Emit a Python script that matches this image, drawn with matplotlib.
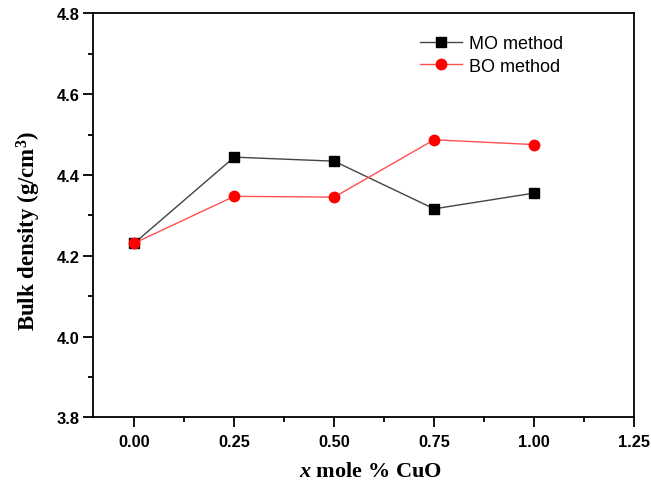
import matplotlib
matplotlib.use("Agg")
import matplotlib.pyplot as plt
from matplotlib.ticker import MultipleLocator, FormatStrFormatter

x_vals = [0.00, 0.25, 0.50, 0.75, 1.00]
mo_density = [4.231, 4.444, 4.434, 4.316, 4.355]
bo_density = [4.231, 4.347, 4.345, 4.487, 4.475]
series_labels = ["MO method", "BO method"]

plt.rcParams["mathtext.fontset"] = "custom"
plt.rcParams["mathtext.rm"] = "Liberation Serif:bold"
plt.rcParams["mathtext.it"] = "Liberation Serif:italic:bold"
plt.rcParams["mathtext.bf"] = "Liberation Serif:bold"

fig = plt.figure(figsize=(6.51, 4.85), dpi=100)
ax = fig.add_axes([0.1433, 0.1375, 0.9739 - 0.1433, 0.9705 - 0.1375])

ax.plot(x_vals, mo_density, color="#444444", lw=1.0, marker="s", ms=6.5,
        mfc="black", mec="black", label=series_labels[0])
ax.plot(x_vals, bo_density, color="#ff5050", lw=1.0, marker="o", ms=7.5,
        mfc="red", mec="red", label=series_labels[1])

ax.set_xlim(-0.1025, 1.25)
ax.set_ylim(3.8, 4.8)
ax.xaxis.set_major_locator(MultipleLocator(0.25))
ax.xaxis.set_minor_locator(MultipleLocator(0.125))
ax.yaxis.set_major_locator(MultipleLocator(0.2))
ax.yaxis.set_minor_locator(MultipleLocator(0.1))
ax.xaxis.set_major_formatter(FormatStrFormatter("%.2f"))
ax.yaxis.set_major_formatter(FormatStrFormatter("%.1f"))

for s in ax.spines.values():
    s.set_linewidth(1.3)
ax.tick_params(which="both", direction="out", top=False, right=False, width=1.3)
ax.tick_params(which="major", length=7)
ax.tick_params(which="minor", length=3.5)
ax.tick_params(axis="x", which="major", pad=5)
ax.tick_params(axis="y", which="major", pad=3)
for lab in ax.get_xticklabels() + ax.get_yticklabels():
    lab.set_fontfamily("Liberation Sans")
    lab.set_fontweight("bold")
    lab.set_fontsize(11.8)

ax.set_xlabel(r"$\mathit{x}$ mole % CuO", fontfamily="Liberation Serif",
              fontweight="bold", fontsize=16, labelpad=9)
ax.set_ylabel(r"Bulk density (g/cm$^\mathbf{3}$)", fontfamily="Liberation Serif",
              fontweight="bold", fontsize=16.5, labelpad=10)
ax.xaxis.label.set_x(0.513)
ax.yaxis.label.set_y(0.465)

leg = ax.legend(loc="upper left", bbox_to_anchor=(420 / 651, 1 - 36 / 485),
                bbox_transform=fig.transFigure, frameon=False,
                prop={"family": "Liberation Sans", "size": 13},
                handlelength=2.3, handletextpad=0.4, labelspacing=0.32,
                borderaxespad=0, borderpad=0)

fig.savefig("out.png", dpi=100)
